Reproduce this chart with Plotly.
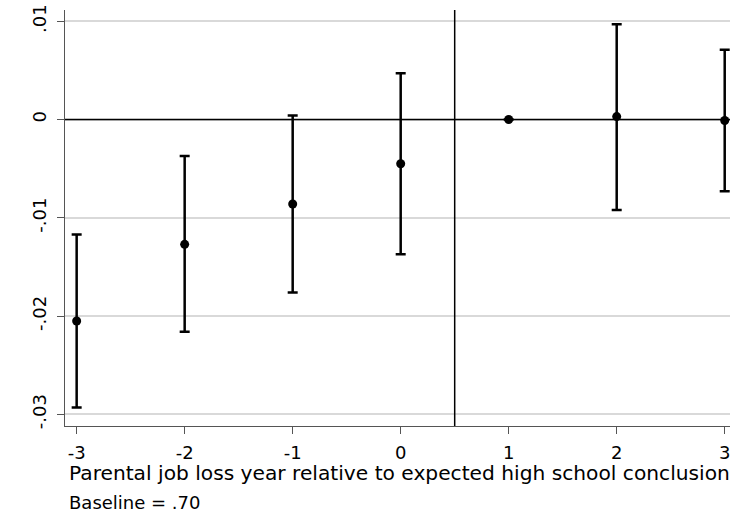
# Event-study style plot: effect of parental job loss by year relative to expected HS conclusion

import plotly.graph_objects as go

years = [-3, -2, -1, 0, 1, 2, 3]
year_labels = ["-3", "-2", "-1", "0", "1", "2", "3"]
coef = [-0.0205, -0.0127, -0.0086, -0.0045, 0.0, 0.0003, -0.0001]
ci_hi = [-0.0117, -0.0037, 0.0004, 0.0047, 0.0, 0.0097, 0.0071]
ci_lo = [-0.0293, -0.0216, -0.0176, -0.0137, 0.0, -0.0092, -0.0073]

y_ticks = [-0.03, -0.02, -0.01, 0, 0.01]
y_ticktext = ["-.03", "-.02", "-.01", "0", ".01"]

x_title = "Parental job loss year relative to expected high school conclusion"
note = "Baseline = .70"

font_family = "DejaVu Sans, Arial, sans-serif"

fig = go.Figure()
fig.add_trace(
    go.Scatter(
        x=years,
        y=coef,
        mode="markers",
        marker=dict(color="black", size=9),
        error_y=dict(
            type="data",
            symmetric=False,
            array=[h - c for h, c in zip(ci_hi, coef)],
            arrayminus=[c - l for c, l in zip(coef, ci_lo)],
            color="black",
            thickness=2.5,
            width=5,
        ),
        showlegend=False,
    )
)

# reference lines
fig.add_hline(y=0, line=dict(color="black", width=1.5))
fig.add_vline(x=0.5, line=dict(color="black", width=1.5))

fig.update_xaxes(
    range=[-3.108, 3.049],
    tickvals=years,
    ticktext=year_labels,
    ticks="outside",
    ticklen=7,
    tickcolor="#555555",
    ticklabelstandoff=3,
    ticklabeloverflow="allow",
    showline=True,
    linecolor="#555555",
    linewidth=1.2,
    showgrid=False,
    zeroline=False,
    automargin=False,
    tickfont=dict(size=18, color="black"),
)
fig.update_yaxes(
    range=[-0.03119, 0.01115],
    tickvals=y_ticks,
    ticktext=y_ticktext,
    tickangle=-90,
    ticks="outside",
    ticklen=7,
    tickcolor="#555555",
    ticklabelstandoff=4,
    showline=True,
    linecolor="#555555",
    linewidth=1.2,
    showgrid=True,
    gridcolor="#d9d9d9",
    gridwidth=1.5,
    zeroline=False,
    automargin=False,
    tickfont=dict(size=18, color="black"),
)

fig.add_annotation(
    text=x_title, xref="paper", yref="paper", x=0.003, y=-0.113,
    xanchor="left", yanchor="middle", showarrow=False,
    font=dict(size=20.2, color="black"),
)
fig.add_annotation(
    text=note, xref="paper", yref="paper", x=0.003, y=-0.183,
    xanchor="left", yanchor="middle", showarrow=False,
    font=dict(size=18, color="black"),
)

fig.update_layout(
    width=730,
    height=517,
    margin=dict(l=65, r=0, t=10, b=91),
    plot_bgcolor="white",
    paper_bgcolor="white",
    font=dict(family=font_family, color="black"),
)

# drop the default page margin so the figure sits at the window's corner
fig.write_html(
    "out.html",
    config={"displayModeBar": False},
    post_script="document.body.style.margin='0';document.body.style.overflow='hidden';",
)
